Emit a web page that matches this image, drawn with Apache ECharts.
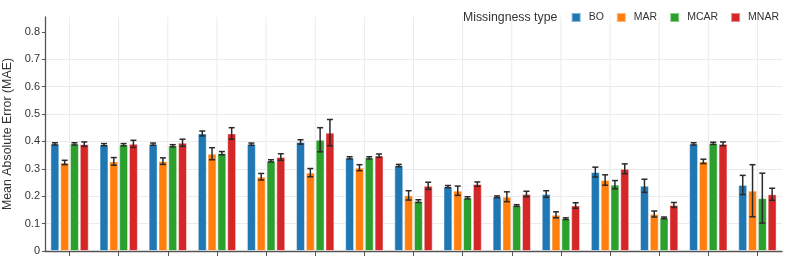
<!DOCTYPE html>
<html>
<head>
<meta charset="utf-8">
<script src="https://cdn.jsdelivr.net/npm/echarts@6/dist/echarts.min.js"></script>
<style>
html,body{margin:0;padding:0;background:#fff;}
#chart{width:793px;height:267px;}
</style>
</head>
<body>
<div id="chart"></div>
<script>
const categories = ['1','2','3','4','5','6','7','8','9','10','11','12','13','14','15'];
const seriesNames = ['BO','MAR','MCAR','MNAR'];
const yTicks = [0,0.1,0.2,0.3,0.4,0.5,0.6,0.7,0.8];

const BO       = [0.391,0.388,0.390,0.429,0.390,0.398,0.340,0.312,0.235,0.198,0.208,0.288,0.238,0.391,0.241];
const BO_err   = [0.004,0.004,0.004,0.009,0.004,0.008,0.004,0.004,0.004,0.003,0.012,0.018,0.024,0.004,0.035];
const MAR      = [0.323,0.327,0.328,0.355,0.271,0.286,0.304,0.203,0.220,0.198,0.132,0.259,0.135,0.327,0.220];
const MAR_err  = [0.008,0.014,0.012,0.022,0.012,0.015,0.011,0.017,0.017,0.018,0.011,0.019,0.011,0.008,0.095];
const MCAR     = [0.391,0.388,0.384,0.357,0.329,0.406,0.340,0.182,0.194,0.166,0.118,0.242,0.121,0.393,0.193];
const MCAR_err = [0.004,0.004,0.004,0.006,0.004,0.044,0.004,0.005,0.004,0.003,0.003,0.015,0.003,0.004,0.091];
const MNAR     = [0.390,0.391,0.395,0.429,0.343,0.432,0.348,0.238,0.244,0.208,0.166,0.300,0.168,0.391,0.207];
const MNAR_err = [0.008,0.013,0.013,0.021,0.012,0.048,0.006,0.013,0.008,0.010,0.010,0.018,0.009,0.007,0.022];

const values = [BO, MAR, MCAR, MNAR];
const errors = [BO_err, MAR_err, MCAR_err, MNAR_err];
const colors = ['#1f77b4','#ff7f0e','#2ca02c','#d62728'];
const CAT_GAP = 0.22, BAR_GAP = 0.10;
const FONT = "'Liberation Sans', Arial, sans-serif";

const chart = echarts.init(document.getElementById('chart'), null, {renderer:'canvas'});

const series = [];
// vertical grid lines at category centres
series.push({
  name: 'vgrid',
  type: 'custom',
  z: 0,
  silent: true,
  data: categories.map((c, k) => [k]),
  renderItem: function (params, api) {
    const p = api.coord([api.value(0), 0]);
    const top = params.coordSys.y;
    return {type: 'line', shape: {x1: p[0], y1: p[1], x2: p[0], y2: top},
      style: {stroke: '#ebebeb', lineWidth: 1}};
  }
});
values.forEach((vals, i) => {
  series.push({
    name: seriesNames[i],
    type: 'bar',
    data: vals,
    barCategoryGap: (CAT_GAP*100)+'%',
    barGap: (BAR_GAP*100)+'%',
    itemStyle: {color: colors[i], borderColor: 'rgba(255,255,255,0.45)', borderWidth: 1},
    emphasis: {disabled: true},
    z: 2
  });
});
values.forEach((vals, i) => {
  series.push({
    name: seriesNames[i] + ' err',
    type: 'custom',
    z: 5,
    silent: true,
    data: vals.map((v, k) => [k, v - errors[i][k], v + errors[i][k]]),
    renderItem: function (params, api) {
      const k = api.value(0);
      const bw = api.size([1, 0])[0];
      const barW = bw * (1 - CAT_GAP) / (4 + 3 * BAR_GAP);
      const off = (i - 1.5) * barW * (1 + BAR_GAP);
      const lo = api.coord([k, api.value(1)]);
      const hi = api.coord([k, api.value(2)]);
      const x = lo[0] + off;
      const cap = 3;
      const st = {stroke: '#2a2a2a', lineWidth: 1.5, fill: null};
      return {
        type: 'group',
        children: [
          {type: 'line', shape: {x1: x, y1: lo[1], x2: x, y2: hi[1]}, style: st},
          {type: 'line', shape: {x1: x - cap, y1: lo[1], x2: x + cap, y2: lo[1]}, style: st},
          {type: 'line', shape: {x1: x - cap, y1: hi[1], x2: x + cap, y2: hi[1]}, style: st}
        ]
      };
    }
  });
});

chart.setOption({
  animation: false,
  backgroundColor: '#fff',
  textStyle: {fontFamily: FONT},
  grid: {left: 45, right: 11, top: 17, bottom: 16, containLabel: false, outerBoundsMode: 'none'},
  legend: {
    data: seriesNames,
    right: 9, top: 7,
    icon: 'rect', itemWidth: 9, itemHeight: 9, itemGap: 12,
    textStyle: {fontSize: 10.5, color: '#333', fontFamily: FONT, padding: [0,0,0,3]}
  },
  graphic: [{
    type: 'text', x: 463, y: 17.5,
    style: {text: 'Missingness type', fontSize: 12.3, fill: '#333', fontFamily: FONT, verticalAlign: 'middle'}
  }],
  xAxis: {
    type: 'category',
    data: categories,
    axisLine: {lineStyle: {color: '#555', width: 1.3}},
    axisTick: {show: true, alignWithLabel: true, length: 5, lineStyle: {color: '#555'}},
    axisLabel: {show: false},
    splitLine: {show: false}
  },
  yAxis: {
    type: 'value',
    min: 0, max: 0.854, interval: 0.1,
    name: 'Mean Absolute Error (MAE)',
    nameLocation: 'middle', nameGap: 30,
    nameTextStyle: {fontSize: 12.4, color: '#333', fontFamily: FONT},
    axisLine: {show: true, lineStyle: {color: '#555', width: 1.3}},
    axisTick: {show: true, length: 3, customValues: yTicks, lineStyle: {color: '#555'}},
    axisLabel: {fontSize: 11, color: '#333', margin: 5, customValues: yTicks,
      formatter: v => String(Math.round(v*10)/10)},
    splitLine: {show: true, showMaxLine: false, lineStyle: {color: '#ebebeb', width: 1}}
  },
  series: series
});
</script>
</body>
</html>
